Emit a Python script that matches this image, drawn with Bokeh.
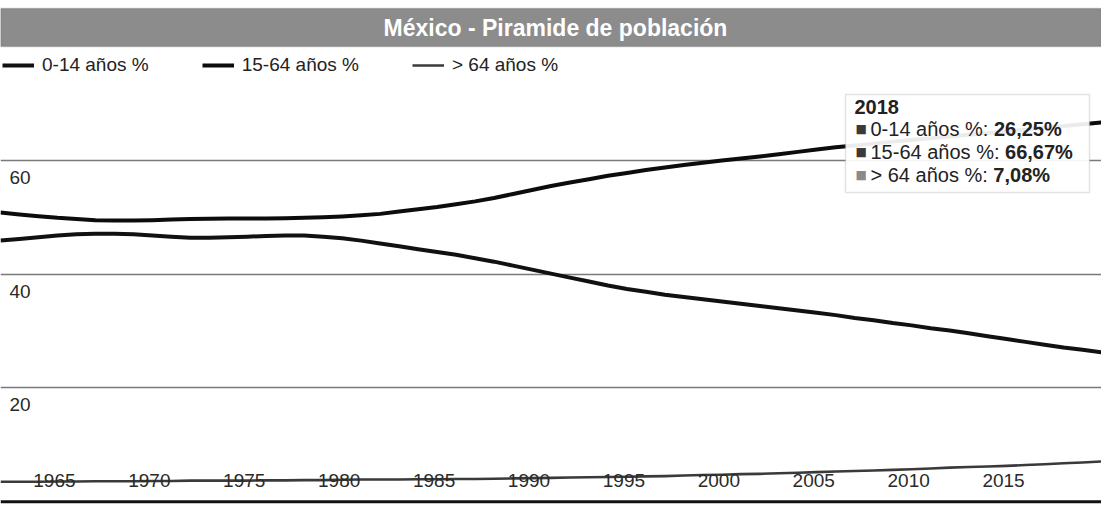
from bokeh.plotting import figure
from bokeh.models import Range1d, Grid, FixedTicker, Label, BoxAnnotation, Span, Legend, LegendItem
from bokeh.embed import file_html
from bokeh.resources import INLINE

# ---------------- data ----------------
years = list(range(1960, 2019))
age_0_14 = [45.9, 46.2, 46.5, 46.8, 47.0, 47.1, 47.1, 47.0, 46.8, 46.6,
            46.4, 46.4, 46.5, 46.6, 46.7, 46.8, 46.8, 46.6, 46.3, 45.9,
            45.4, 44.9, 44.4, 43.9, 43.4, 42.8, 42.2, 41.5, 40.8, 40.1,
            39.4, 38.7, 38.0, 37.4, 36.9, 36.4, 36.0, 35.6, 35.2, 34.8,
            34.4, 34.0, 33.6, 33.2, 32.8, 32.3, 31.9, 31.4, 31.0, 30.5,
            30.1, 29.6, 29.1, 28.6, 28.1, 27.6, 27.1, 26.7, 26.25]
age_15_64 = [50.85, 50.5, 50.2, 49.9, 49.7, 49.5, 49.45, 49.45, 49.5, 49.6,
             49.7, 49.75, 49.8, 49.8, 49.8, 49.85, 49.9, 50.0, 50.15, 50.35,
             50.6, 51.0, 51.4, 51.8, 52.3, 52.8, 53.4, 54.1, 54.8, 55.5,
             56.1, 56.7, 57.3, 57.8, 58.3, 58.75, 59.2, 59.6, 60.0, 60.35,
             60.7, 61.1, 61.5, 61.9, 62.3, 62.6, 62.95, 63.3, 63.6, 63.9,
             64.2, 64.5, 64.8, 65.1, 65.4, 65.75, 66.05, 66.35, 66.67]
age_65_plus = [3.5, 3.5, 3.5, 3.55, 3.55, 3.6, 3.6, 3.6, 3.65, 3.65,
               3.7, 3.7, 3.7, 3.7, 3.75, 3.75, 3.8, 3.8, 3.85, 3.9,
               3.9, 3.9, 3.95, 3.95, 4.0, 4.0, 4.05, 4.1, 4.15, 4.2,
               4.25, 4.3, 4.35, 4.4, 4.45, 4.5, 4.6, 4.7, 4.75, 4.85,
               4.9, 5.0, 5.1, 5.2, 5.3, 5.4, 5.5, 5.6, 5.7, 5.85,
               6.0, 6.1, 6.2, 6.3, 6.45, 6.6, 6.75, 6.9, 7.08]
series_names = ["0-14 años %", "15-64 años %", "> 64 años %"]
x_tick_years = [1965, 1970, 1975, 1980, 1985, 1990, 1995, 2000, 2005, 2010, 2015]
x_tick_labels = ["1965", "1970", "1975", "1980", "1985", "1990", "1995", "2000", "2005", "2010", "2015"]
y_ticks = [20, 40, 60]
y_tick_labels = ["20", "40", "60"]
title_text = "México - Piramide de población"
tooltip_year = 2018

# ---------------- styling ----------------
W, H = 1101, 506
FONT = "Liberation Sans"
line_colors = ["#111111", "#0c0c0c", "#3a3a3a"]
line_widths = [4, 4, 2.6]
square_colors = ["#3a3a3a", "#3a3a3a", "#8a8a8a"]

ARIAL = {'0': 556, '1': 556, '2': 556, '3': 556, '4': 556, '5': 556, '6': 556, '7': 556,
         '8': 556, '9': 556, '-': 333, ' ': 278, 'a': 556, 'ñ': 556, 'o': 556, 's': 500,
         '%': 889, ':': 278, '>': 584, ',': 278}


def text_w(s, size):
    return sum(ARIAL.get(c, 556) for c in s) * size / 1000.0


p = figure(width=W, height=H, title=None,
           x_range=Range1d(1960, 2018), y_range=Range1d(-0.84, 88.11),
           x_axis_location=None, y_axis_location=None,
           output_backend="svg", toolbar_location=None,
           min_border=0, outline_line_color=None,
           background_fill_color="white", border_fill_color="white")
p.grid.visible = False

p.add_layout(Grid(dimension=1, ticker=FixedTicker(ticks=y_ticks),
                  grid_line_color="#7a7a7a", grid_line_width=1.5))

renderers = []
for vals, c, lw in zip([age_0_14, age_15_64, age_65_plus], line_colors, line_widths):
    renderers.append(p.line(years, vals, line_color=c, line_width=lw, line_join="round"))

# baseline (x axis line)
p.add_layout(Span(location=0, dimension="width", line_color="#111111", line_width=3))

# x tick labels (drawn inside plot, left of tick as in the reference)
for yr, lab in zip(x_tick_years, x_tick_labels):
    p.add_layout(Label(x=yr, y=0, text=lab, x_offset=-41, y_offset=21,
                       text_align="center", text_baseline="middle",
                       text_font=FONT, text_font_size="19px", text_color="#2a2a2a"))

# y tick labels (inside, under the gridline)
for v, lab in zip(y_ticks, y_tick_labels):
    p.add_layout(Label(x=9, x_units="screen", y=v, y_offset=-17, text=lab,
                       text_align="left", text_baseline="middle",
                       text_font=FONT, text_font_size="19px", text_color="#2a2a2a"))

# title bar
p.add_layout(BoxAnnotation(left=0, right=W, top=H - 8, bottom=H - 46,
                           left_units="screen", right_units="screen",
                           top_units="screen", bottom_units="screen",
                           fill_color="#8c8c8c", fill_alpha=1.0,
                           line_color="#5c5c5c", line_width=1.5, level="overlay"))
p.add_layout(Label(x=555, y=H - 27, x_units="screen", y_units="screen", text=title_text,
                   text_align="center", text_baseline="middle",
                   text_font=FONT, text_font_style="bold", text_font_size="23px",
                   text_color="white", level="overlay"))

# legend
legend = Legend(items=[LegendItem(label=n, renderers=[r]) for n, r in zip(series_names, renderers)],
                orientation="horizontal", location=(2, 430),
                margin=0, padding=0, spacing=53, glyph_width=32, glyph_height=20,
                label_standoff=8, label_text_font=FONT, label_text_font_size="19px",
                label_text_color="#222222", background_fill_alpha=0, border_line_alpha=0)
p.add_layout(legend)

# tooltip for the last year
idx = years.index(tooltip_year)
tt_vals = [age_0_14[idx], age_15_64[idx], age_65_plus[idx]]
p.add_layout(BoxAnnotation(left=845, right=1089, top=H - 94, bottom=H - 192,
                           left_units="screen", right_units="screen",
                           top_units="screen", bottom_units="screen",
                           fill_color="white", fill_alpha=0.92,
                           line_color="#a0a0a0", line_width=1.5, level="overlay"))
TS = 20
p.add_layout(Label(x=854, y=H - 106, x_units="screen", y_units="screen", text=str(tooltip_year),
                   text_align="left", text_baseline="middle", text_font=FONT,
                   text_font_style="bold", text_font_size=f"{TS}px", text_color="#222222",
                   level="overlay"))
row_y = [128, 151, 174]
for name, v, sc, ry in zip(series_names, tt_vals, square_colors, row_y):
    p.add_layout(Label(x=855, y=H - ry, x_units="screen", y_units="screen", text="■",
                       text_align="left", text_baseline="middle", text_font="DejaVu Sans",
                       text_font_size="12px", text_color=sc, level="overlay"))
    part = name + ": "
    p.add_layout(Label(x=870, y=H - ry, x_units="screen", y_units="screen", text=part,
                       text_align="left", text_baseline="middle", text_font=FONT,
                       text_font_size=f"{TS}px", text_color="#222222", level="overlay"))
    val_txt = f"{v:.2f}".replace(".", ",") + "%"
    p.add_layout(Label(x=870 + text_w(part, TS), y=H - ry, x_units="screen", y_units="screen",
                       text=val_txt, text_align="left", text_baseline="middle", text_font=FONT,
                       text_font_style="bold", text_font_size=f"{TS}px", text_color="#222222",
                       level="overlay"))

open("out.html", "w").write(file_html(p, INLINE))
